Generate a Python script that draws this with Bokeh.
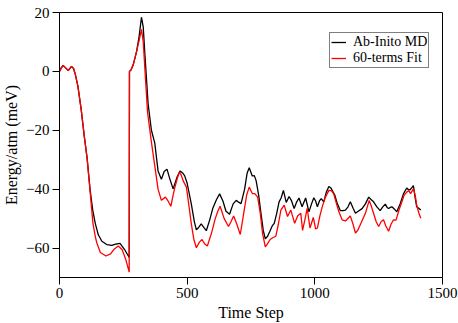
from bokeh.plotting import figure
from bokeh.models import Range1d, FixedTicker, Legend, LegendItem
from bokeh.embed import file_html
from bokeh.resources import INLINE

# Ab-Initio MD (black)
md_t = [0, 7, 14, 24, 34, 41, 47, 55, 62, 72, 85, 97, 108, 120, 130, 140, 152, 166, 185, 205, 220, 237, 255, 273,
        274, 280, 289, 302, 312, 321, 328, 335, 347, 360, 373, 386, 399, 410, 421, 432, 445, 460, 473, 482, 490, 500,
        516, 528, 536, 545, 555, 565, 575, 588, 600, 615, 627, 640, 652, 666, 680, 692, 703, 711, 725, 735, 743, 755,
        763, 770, 780, 789, 798, 806, 815, 824, 833, 841, 850, 860, 868, 877, 888, 899, 909, 919, 928, 938, 950, 964,
        977, 987, 996, 1003, 1010, 1018, 1025, 1035, 1045, 1055, 1062, 1068, 1078, 1088, 1100, 1110, 1120, 1130, 1139,
        1150, 1159, 1170, 1185, 1198, 1211, 1220, 1230, 1243, 1256, 1266, 1276, 1283, 1289, 1295, 1302, 1312, 1321,
        1334, 1347, 1360, 1366, 1373, 1380, 1386, 1393, 1399, 1407, 1415]
md_e = [0, 1.2, 2, 1.2, 0.3, 1.0, 1.7, 1.0, -1, -5, -13, -22, -29.3, -40.3, -47, -51.6, -55.5, -57.7, -58.8, -59.1, -58.7, -58.4, -60.5, -63.2,
        0, 0.5, 2.3, 6.8, 12, 18.4, 15, 5, -11, -20, -24.3, -33.8, -36.6, -34, -33.2, -36.5, -39.9, -36, -33.8, -34.5, -35.4, -38,
        -44.9, -51, -53.8, -53, -51.8, -53, -54.1, -50.5, -46.6, -43.5, -41.6, -44, -47.5, -48.5, -45, -43.8, -44.5, -44.9, -40, -34.5, -32.7, -35.5,
        -35.4, -37.1, -42, -48.2, -54, -56.9, -56, -54.3, -52.5, -51.6, -48.5, -44.3, -43, -40.4, -44.5, -42.5, -44, -46.6, -44.5, -43, -46, -43,
        -47.7, -45, -42.9, -44, -46, -44, -43.2, -44.3, -41, -39.1, -39.5, -40.4, -42, -44.9, -47.3, -47.3, -47.1, -46, -44.3,
        -46.5, -48.2, -47.5, -46.6, -45, -42.7, -43.5, -44.3, -46, -47.3, -46, -45.1, -46.2, -46.6, -46.2, -46, -46.8, -47.7,
        -45, -41.6, -39.6, -40.1, -40.2, -39.5, -38.8, -43, -46, -46.5, -47.1]

# 60-terms Fit (red)
fit_t = [0, 7, 14, 24, 34, 41, 47, 55, 62, 72, 85, 97, 108, 120, 131, 140, 146, 160, 182, 200, 215, 230, 245, 260, 273,
         274, 280, 289, 302, 312, 321, 328, 335, 345, 360, 373, 386, 399, 415, 425, 436, 450, 468, 476, 484, 497, 506,
         516, 526, 536, 548, 558, 568, 579, 595, 610, 620, 629, 645, 662, 672, 682, 695, 708, 720, 733, 743, 755, 765,
         776, 786, 795, 806, 815, 825, 835, 847, 857, 867, 880, 893, 906, 921, 933, 945, 952, 962, 970, 981, 994, 1003,
         1010, 1020, 1029, 1040, 1055, 1065, 1074, 1085, 1094, 1107, 1120, 1139, 1150, 1159, 1168, 1178, 1198, 1213, 1222,
         1230, 1240, 1250, 1260, 1269, 1278, 1289, 1298, 1308, 1318, 1330, 1341, 1350, 1360, 1368, 1375, 1386, 1393, 1399,
         1407, 1415]
fit_e = [0, 1.2, 2, 1.2, 0.3, 1.0, 1.7, 1.0, -1, -5, -13, -22, -29.5, -41, -51.6, -56, -58.2, -61.5, -62.7, -62, -60.3, -59.3, -60.5, -64, -68.2,
         0, 0.5, 2.3, 6.8, 10.5, 14.3, 10, 0, -14, -24, -32, -40, -43.8, -42.7, -44, -45.8, -40, -34.3, -35, -37.1, -39.3, -45,
         -51.6, -57, -59.9, -58, -57.1, -58.5, -59.3, -55, -50, -47.5, -45.8, -50, -52.7, -51, -49.1, -52, -55.4, -49, -42, -39.3, -41.5, -41.5,
         -42.7, -48, -54.9, -59.6, -58.5, -57.1, -56.5, -56, -52, -47.1, -45.4, -49.3, -47.1, -51.6, -49, -48.2, -54, -50, -46.5, -53.2, -49.6, -53.5,
         -53.2, -49, -46, -43, -40.4, -40.5, -41.6, -45, -47.7, -50.4, -50.8, -49.1, -52, -54.9, -54, -52.1, -48.2, -43.8, -46,
         -48.2, -51, -52.7, -51, -50.4, -52.5, -54.3, -52, -50.4, -50.5, -47, -44.3, -42, -41, -40.5, -41.5, -39.9, -42, -45.4,
         -48, -49.9]

x_ticks = [0, 500, 1000, 1500]
y_ticks = [-60, -40, -20, 0, 20]
labels = ["Ab-Inito MD", "60-terms Fit"]

FONT = "Liberation Serif"

p = figure(width=458, height=323, output_backend="svg", toolbar_location=None,
           x_range=Range1d(0, 1500), y_range=Range1d(-70, 20),
           min_border_left=57, min_border_right=16, min_border_top=12, min_border_bottom=42)
p.xgrid.visible = False
p.ygrid.visible = False
p.outline_line_color = "black"
p.outline_line_width = 1
p.background_fill_color = "white"
p.border_fill_color = "white"

for ax, ticks, lab in ((p.xaxis[0], x_ticks, "Time Step"), (p.yaxis[0], y_ticks, "Energy/atm (meV)")):
    ax.ticker = FixedTicker(ticks=ticks)
    ax.minor_tick_line_color = None
    ax.major_tick_in = 0
    ax.major_tick_out = 7
    ax.axis_line_color = "black"
    ax.major_tick_line_color = "black"
    ax.major_label_text_font = FONT
    ax.major_label_text_font_size = "15px"
    ax.major_label_text_color = "black"
    ax.axis_label = lab
    ax.axis_label_text_font = FONT
    ax.axis_label_text_font_size = "16px"
    ax.axis_label_text_font_style = "normal"
    ax.axis_label_text_color = "black"
    ax.major_label_standoff = 3
    ax.axis_label_standoff = 3

r1 = p.line(md_t, md_e, line_color="black", line_width=1.3)
r2 = p.line(fit_t, fit_e, line_color="red", line_width=1.3)

legend = Legend(items=[LegendItem(label=labels[0], renderers=[r1]),
                       LegendItem(label=labels[1], renderers=[r2])],
                location=(270, 209), padding=1, spacing=0, margin=0,
                label_height=14, glyph_height=14, glyph_width=15, label_standoff=7,
                label_text_line_height=1.0,
                label_text_font=FONT, label_text_font_size="14px", label_text_color="black",
                border_line_color="black", border_line_width=1, background_fill_alpha=1)
p.add_layout(legend, "center")

open("out.html", "w").write(file_html(p, INLINE))
